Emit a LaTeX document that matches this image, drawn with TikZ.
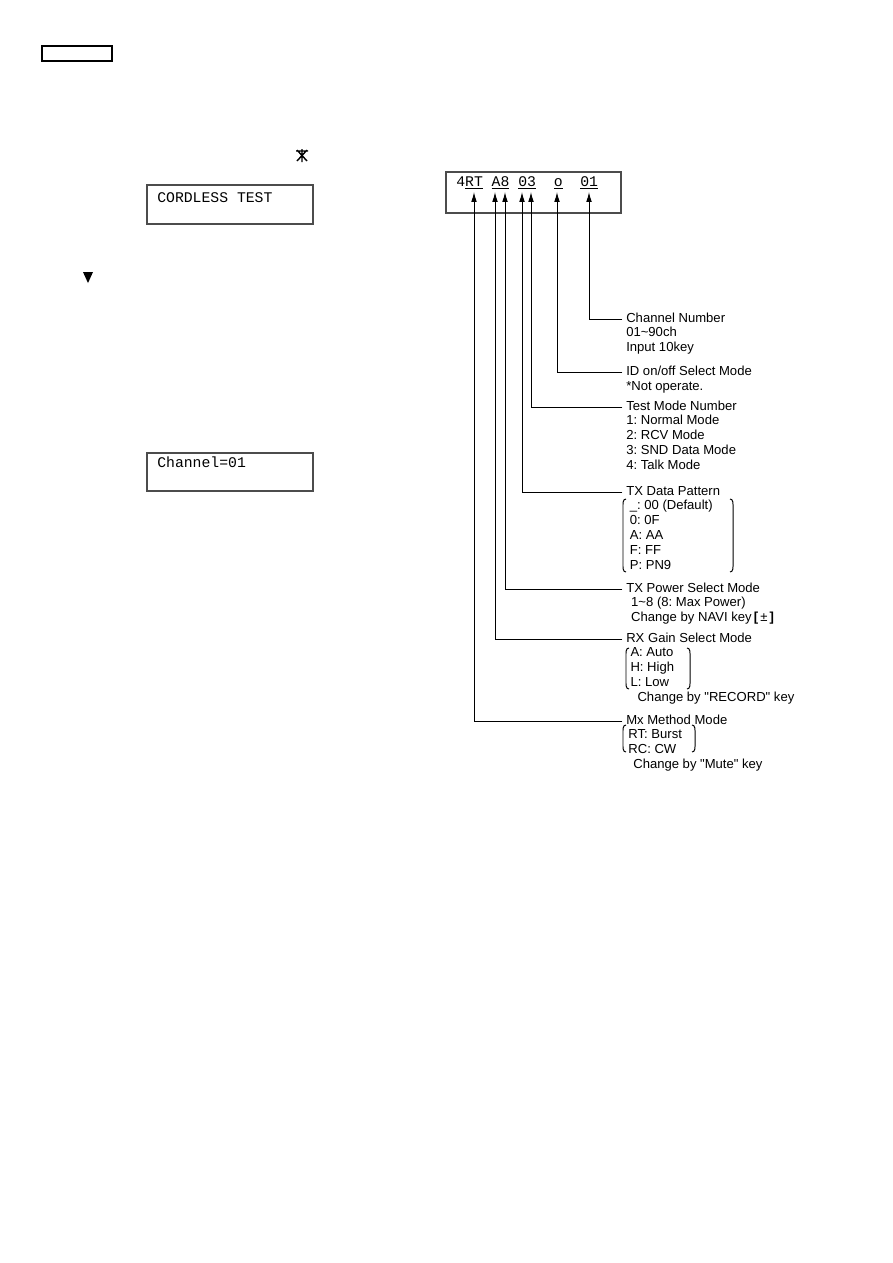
\documentclass[tikz,border=0pt]{standalone}
\usepackage{fontspec}
\setmainfont{Liberation Sans}
\setmonofont{Liberation Mono}
\usetikzlibrary{arrows.meta}
\usetikzlibrary{positioning}
\frenchspacing
\newcommand{\brkpair}[4]{%
\draw[brk] (#1+3,#3) to[out=180,in=90] (#1,#3+8) -- (#1,#4-8) to[out=-90,in=180] (#1+3,#4);
\draw[brk] (#2-3,#3) to[out=0,in=90] (#2,#3+8) -- (#2,#4-8) to[out=-90,in=0] (#2-3,#4);}
\newcommand{\qq}{\textquotedbl}

\begin{document}
\begin{tikzpicture}[x=0.025cm,y=-0.025cm]
\tikzstyle{every node}=[inner sep=0pt]
\tikzstyle{lcd}=[font=\fontsize{10.5}{12}\selectfont\ttfamily]
\tikzstyle{box}=[line width=1pt,black!70]
\tikzstyle{lbl}=[font=\fontsize{9.3}{10.67}\selectfont,align=left,
  execute at begin node=\strut,execute at end node=\strut]
\tikzstyle{arw}=[line width=0.7pt,-{Latex[length=7pt,width=4pt]}]
\tikzstyle{brk}=[line width=0.7pt]
\useasboundingbox (0,0) rectangle (893,1263);

% left column
\draw[line width=0.8pt] (42,46) rectangle (112,61);
\draw[line width=1pt] (296,151) -- (308,151) (302,149) -- (302,162)
  (297,150) -- (307,161) (307,150) -- (297,161);
\draw[box] (147,185) rectangle (313,224);
\node[lcd,anchor=base west] (cordless) at (157,202) {CORDLESS TEST};
\fill (83,272) -- (93,272) -- (88,283) -- cycle;
\draw[box] (147,453) rectangle (313,491);
\node[lcd,anchor=base west] (chanset) at (157,467) {Channel=01};

% display with targets
\draw[box] (446,172) rectangle (621,213);
\node[lcd,anchor=base west] (disp) at (456,186)
  {4\underline{RT}~\underline{A}\underline{8}~\underline{0}\underline{3}~~\underline{o}~~\underline{01}};
\foreach \n/\x in {pmx/474,prx/495,ptp/505,pdp/522,ptm/531,pid/557,pch/589}
  \coordinate (\n) at (\x,192);

% labels
\node[lbl,anchor=base west] (chan) at (626,322) {Channel Number};
\node[lbl,anchor=north west] (chanD) at (chan.south west) {01\textasciitilde90ch\\Input 10key};
\node[lbl,anchor=base west] (idm) at (626,375) {ID on/off Select Mode};
\node[lbl,anchor=north west] (idmD) at (idm.south west) {*Not operate.};
\node[lbl,anchor=base west] (test) at (626,410) {Test Mode Number};
\node[lbl,anchor=north west] (testD) at (test.south west)
  {1: Normal Mode\\2: RCV Mode\\3: SND Data Mode\\4: Talk Mode};
\node[lbl,anchor=base west] (tdp) at (626,495) {TX Data Pattern};
\node[lbl,anchor=north west] (tdpD) at ([xshift=2.5pt]tdp.south west)
  {\_: 00 (Default)\\0: 0F\\A: AA\\F: FF\\P: PN9};
\node[lbl,anchor=base west] (txp) at (626,592) {TX Power Select Mode};
\node[lbl,anchor=north west] (txpD) at ([xshift=3.5pt]txp.south west)
  {1\textasciitilde8 (8: Max Power)\\Change by NAVI key\,{\bfseries[}\,±\,{\bfseries]}};
\node[lbl,anchor=base west] (rxg) at (626,642) {RX Gain Select Mode};
\node[lbl,anchor=north west] (rxgD) at ([xshift=3pt]rxg.south west) {A: Auto\\H: High\\L: Low};
\node[lbl,anchor=north west] (rxgC) at ([xshift=5pt]rxgD.south west) {Change by \qq RECORD\qq\ key};
\node[lbl,anchor=base west] (mxm) at (626,724) {Mx Method Mode};
\node[lbl,anchor=north west] (mxmD) at ([xshift=1.5pt]mxm.south west) {RT: Burst\\RC: CW};
\node[lbl,anchor=north west] (mxmC) at ([xshift=3.5pt]mxmD.south west) {Change by \qq Mute\qq\ key};

% brackets
\brkpair{623}{733}{499}{572}
\brkpair{626}{690}{648}{689}
\brkpair{623}{695}{725}{752}

% connectors
\foreach \l/\p in {chan/pch,idm/pid,test/ptm,tdp/pdp,txp/ptp,rxg/prx,mxm/pmx}
  \draw[arw] ([xshift=-2.5pt]\l.west) -| (\p);
\end{tikzpicture}
\end{document}
